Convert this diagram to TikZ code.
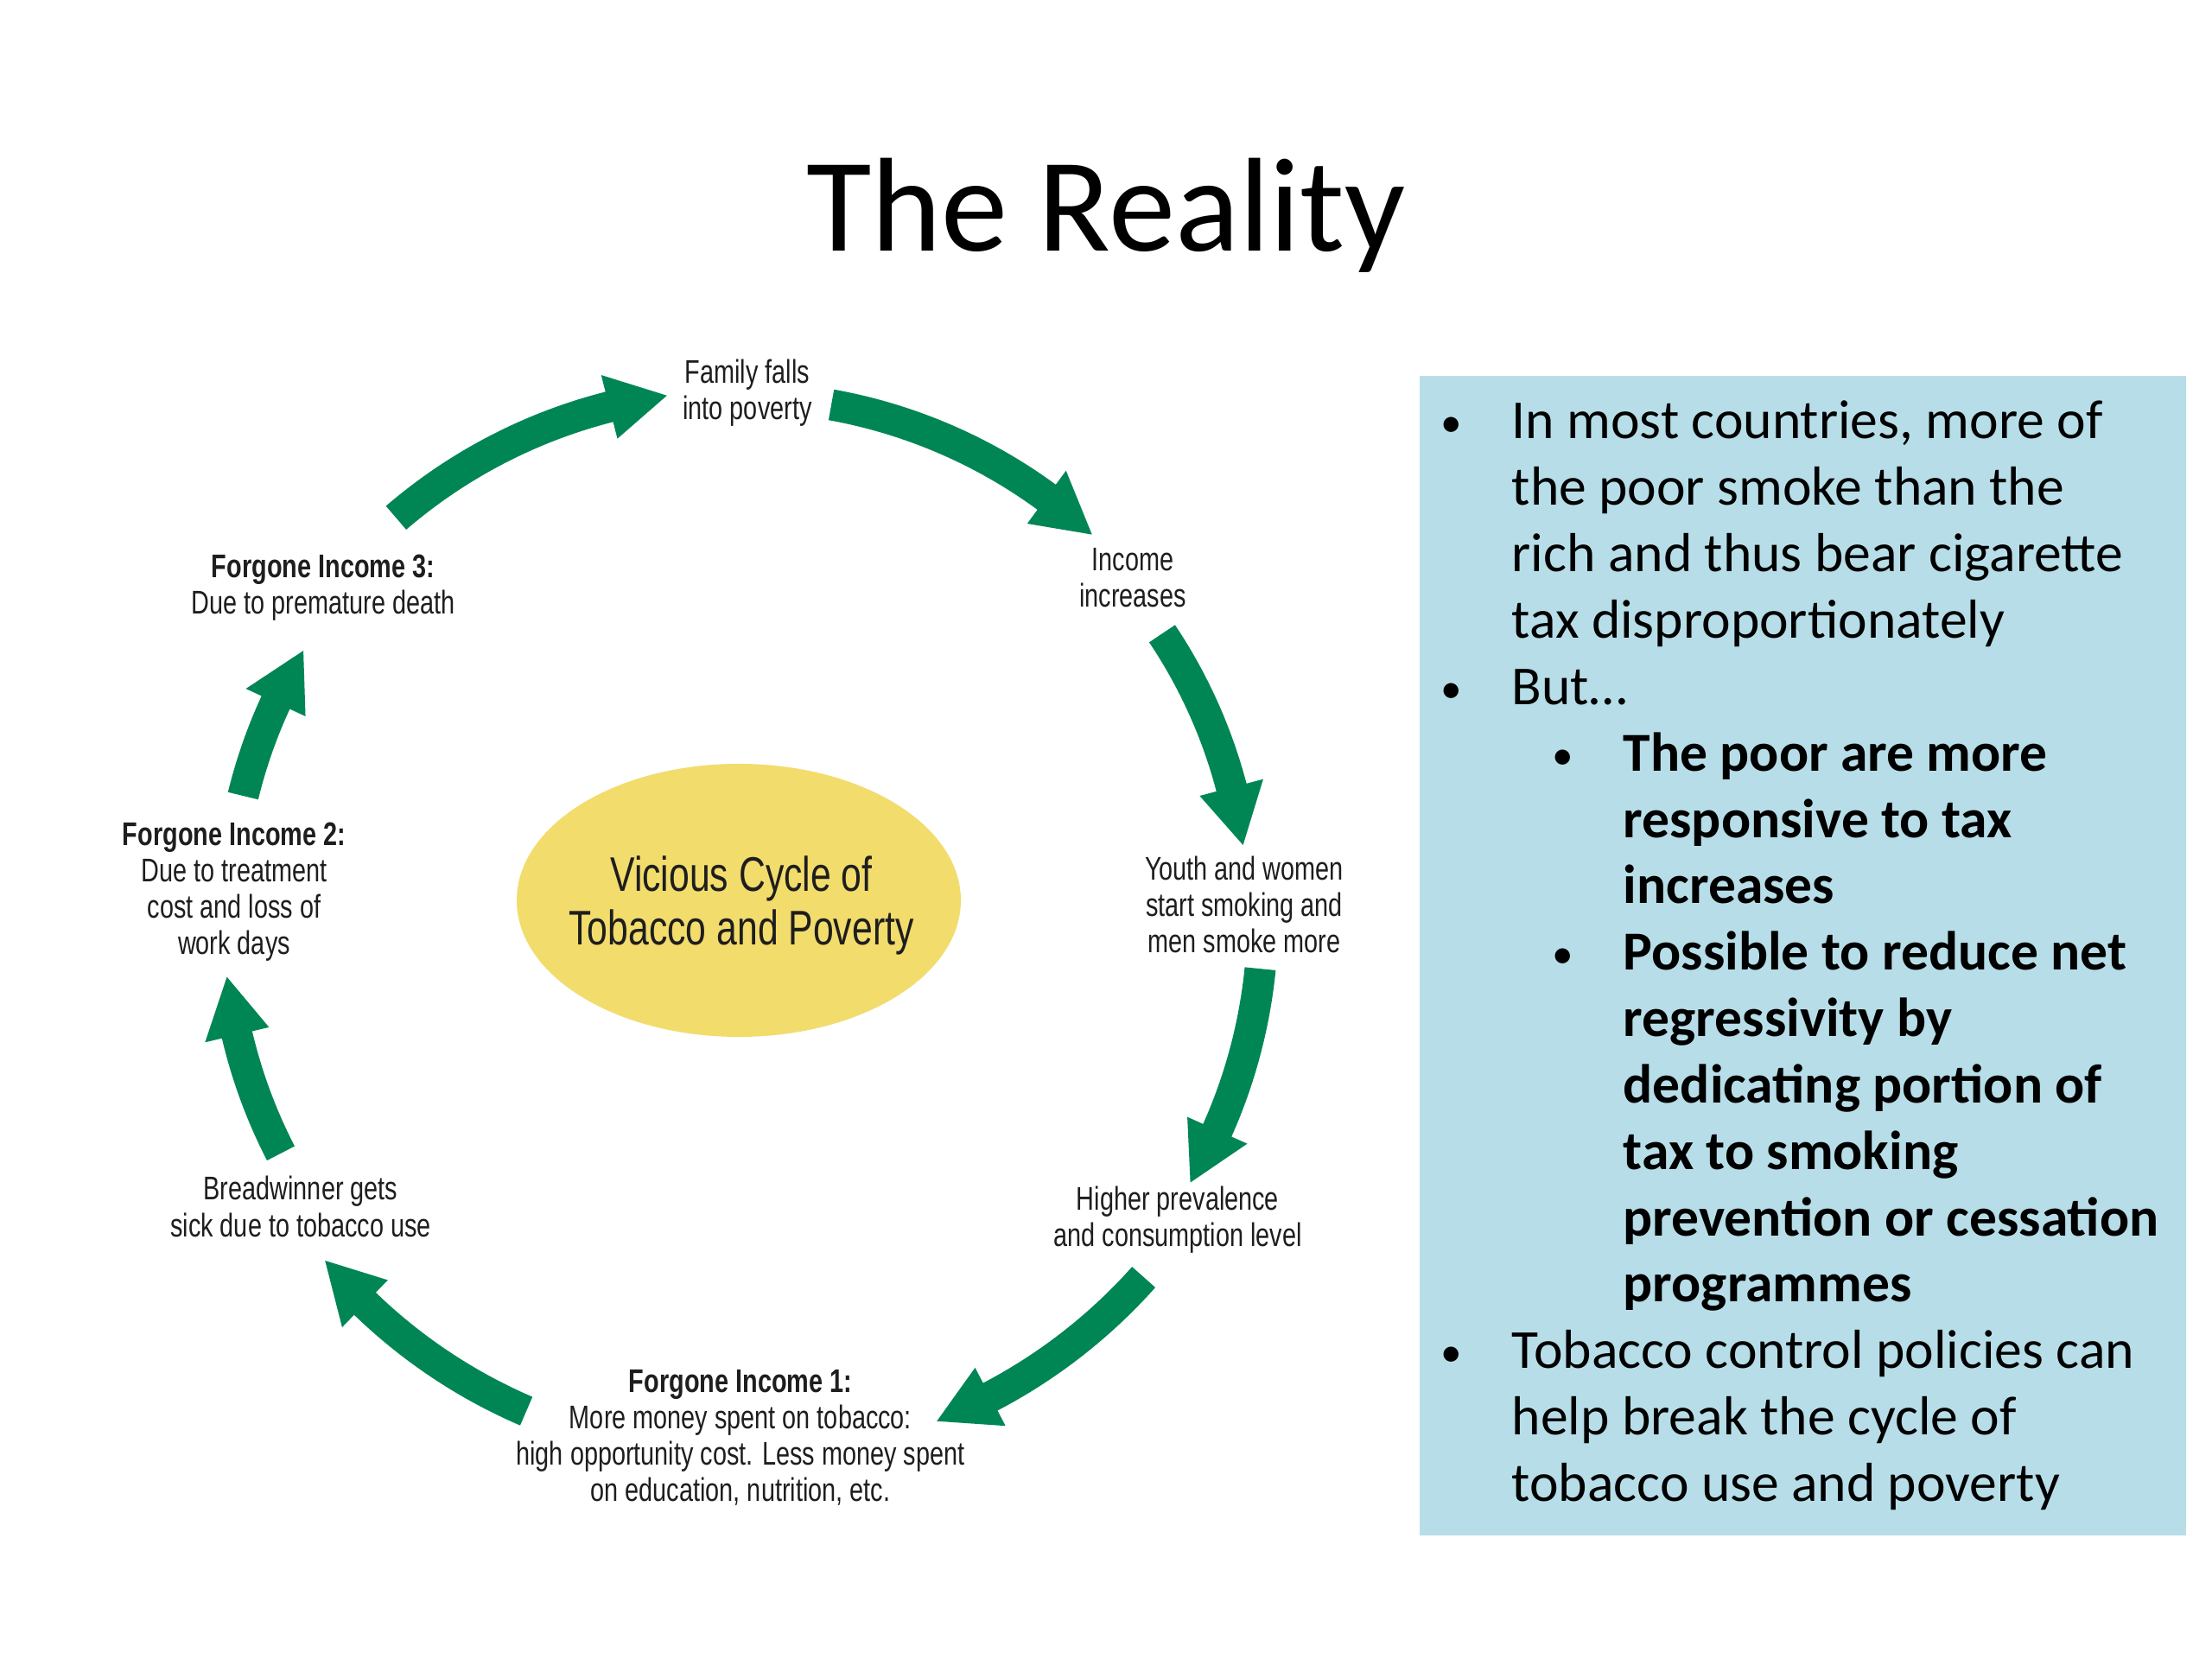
\documentclass[tikz,border=0pt]{standalone}
\usepackage{fontspec}
\setmainfont{Carlito}
\newfontfamily\dfont[FakeStretch=0.76]{Liberation Sans}
\usetikzlibrary{calc,shapes.geometric}
\definecolor{boxblue}{HTML}{B7DEE8}
\definecolor{agreen}{RGB}{0,134,84}
\definecolor{ellyellow}{HTML}{F2DC6C}
\definecolor{dtext}{HTML}{1E1E1E}
\def\bw{0.18}
\def\hw{0.38}
\newcommand\cycarrow[4]{%
  \pgfmathsetmacro\ha{0.68/#4*57.2958}%
  \begin{scope}[shift={(C)}]
    \fill[agreen] ({#2}:{#4+\bw}) arc[start angle={#2}, end angle={#3+\ha}, radius={#4+\bw}]
      -- ({#3+\ha}:{#4+\hw}) -- ({#3}:{#4}) coordinate (#1) -- ({#3+\ha}:{#4-\hw})
      -- ({#3+\ha}:{#4-\bw}) arc[start angle={#3+\ha}, end angle={#2}, radius={#4-\bw}] -- cycle;
  \end{scope}}
\begin{document}
\begin{tikzpicture}[
  lbl/.style={font=\dfont\fontsize{10.8}{12}\selectfont, align=center, text=dtext, inner sep=0pt},
  bline/.style={anchor=base west, inner sep=0pt, font=\fontsize{18.1}{21.8}\selectfont},
  bbold/.style={anchor=base west, inner sep=0pt, font=\bfseries\fontsize{18.1}{21.8}\selectfont},
  bdot/.style={anchor=base, inner sep=0pt, font=\fontsize{14}{16}\selectfont},
]
\useasboundingbox (0,0) rectangle (25.6,19.2);
\fill[white] (0,0) rectangle (25.6,19.2);

% title
\node[anchor=base, inner sep=0pt, font=\fontsize{44}{52}\selectfont] (title) at (12.8,16.29) {The Reality};

% right text box
\node[fill=boxblue, inner sep=0pt, minimum width=8.87cm, minimum height=13.42cm, anchor=south west] (box) at (16.42,1.42) {};
\node[bdot] (d1) at (16.80,14.140) {•};
\node[bline] (t0) at (17.49,14.120) {In most countries, more of};
\node[bline] (t1) at (17.49,13.352) {the poor smoke than the};
\node[bline] (t2) at (17.49,12.583) {rich and thus bear cigarette};
\node[bline] (t3) at (17.49,11.815) {tax disproportionately};
\node[bdot] (d2) at (16.80,11.066) {•};
\node[bline] (t4) at (17.49,11.046) {But…};
\node[bdot] (d3) at (18.09,10.298) {•};
\node[bbold] (t5) at (18.78,10.278) {The poor are more};
\node[bbold] (t6) at (18.78,9.509) {responsive to tax};
\node[bbold] (t7) at (18.78,8.741) {increases};
\node[bdot] (d4) at (18.09,7.992) {•};
\node[bbold] (t8) at (18.78,7.972) {Possible to reduce net};
\node[bbold] (t9) at (18.78,7.204) {regressivity by};
\node[bbold] (t10) at (18.78,6.435) {dedicating portion of};
\node[bbold] (t11) at (18.78,5.667) {tax to smoking};
\node[bbold] (t12) at (18.78,4.898) {prevention or cessation};
\node[bbold] (t13) at (18.78,4.130) {programmes};
\node[bdot] (d5) at (16.80,3.381) {•};
\node[bline] (t14) at (17.49,3.361) {Tobacco control policies can};
\node[bline] (t15) at (17.49,2.593) {help break the cycle of};
\node[bline] (t16) at (17.49,1.824) {tobacco use and poverty};

% hub
\node[ellipse, fill=ellyellow, inner sep=0pt, minimum width=5.14cm, minimum height=3.16cm] (hub) at (8.55,8.78) {};
\node[font=\dfont\fontsize{16}{17.5}\selectfont, align=center, inner sep=0pt, text=dtext] (hubtxt) at (8.58,8.72) {Vicious Cycle of\\Tobacco and Poverty};

% labels
\node[lbl] (fam) at (8.65,14.655) {Family falls\\into poverty};
\node[lbl] (inc) at (13.11,12.515) {Income\\increases};
\node[lbl] (youth) at (14.40,8.73) {Youth and women\\start smoking and\\men smoke more};
\node[lbl] (higher) at (13.63,5.085) {Higher prevalence\\and consumption level};
\node[lbl] (f1) at (8.57,2.56) {\textbf{Forgone Income 1:}\\More money spent on tobacco:\\high opportunity cost. Less money spent\\on education, nutrition, etc.};
\node[lbl] (bread) at (3.48,5.235) {Breadwinner gets\\sick due to tobacco use};
\node[lbl] (f2) at (2.71,8.88) {\textbf{Forgone Income 2:}\\Due to treatment\\cost and loss of\\work days};
\node[lbl] (f3) at (3.74,12.4) {\textbf{Forgone Income 3:}\\Due to premature death};

% cycle arrows
\coordinate (C) at (8.555,8.59);
\cycarrow{a1}{130.7}{97.9}{6.09}
\cycarrow{a2}{79.8}{47.3}{6.02}
\cycarrow{a3}{33.8}{8.1}{5.89}
\cycarrow{a4}{-5.7}{-30.5}{6.06}
\cycarrow{a5}{-41.7}{-68.6}{6.27}
\cycarrow{a6}{246.7}{219.7}{6.23}
\cycarrow{a7}{207.3}{186.7}{5.97}
\cycarrow{a8}{166.3}{148.6}{5.91}
\end{tikzpicture}
\end{document}
